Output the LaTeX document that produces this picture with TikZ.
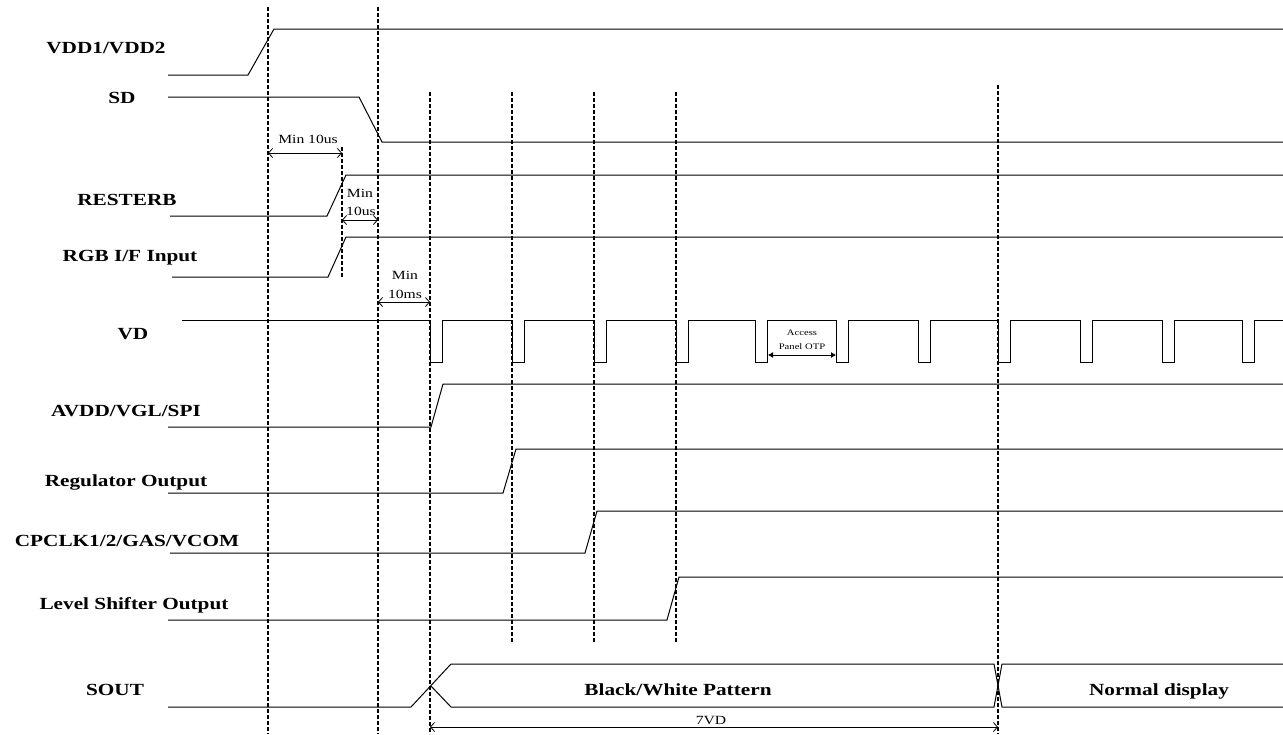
\documentclass[tikz,border=0pt]{standalone}
\usepackage{fontspec}
\setmainfont{Liberation Serif}
\usepackage{graphicx}
\usetikzlibrary{arrows.meta}
\newcommand{\wide}[1]{\scalebox{1.25}[1]{#1}}
\begin{document}
\begin{tikzpicture}[x=1pt,y=-1pt,
  sig/.style={line width=1pt},
  vline/.style={line width=1.3pt, dash pattern=on 4pt off 2pt},
  lbl/.style={anchor=base, inner sep=0pt, font=\fontsize{17}{20}\selectfont\bfseries},
  small/.style={anchor=base, inner sep=0pt, font=\fontsize{12.5}{14}\selectfont},
  tiny/.style={anchor=base, inner sep=0pt, font=\fontsize{8.5}{10}\selectfont},
  dim/.style={line width=0.8pt, {Straight Barb[length=4pt,width=9pt]}-{Straight Barb[length=4pt,width=9pt]}},
  fdim/.style={line width=0.8pt, {Latex[length=5pt,width=6pt]}-{Latex[length=5pt,width=6pt]}}
]
\useasboundingbox (0,0) rectangle (1283,734);

% labels
\node[lbl] (lvdd) at (106,53) {\wide{VDD1/VDD2}};
\node[lbl] (lsd)  at (122,103) {\wide{SD}};
\node[lbl] (lrst) at (127,205) {\wide{RESTERB}};
\node[lbl] (lrgb) at (130,261) {\wide{RGB I/F Input}};
\node[lbl] (lvd)  at (133,339) {\wide{VD}};
\node[lbl] (lavd) at (126,416) {\wide{AVDD/VGL/SPI}};
\node[lbl] (lreg) at (126,486) {\wide{Regulator Output}};
\node[lbl] (lcp)  at (127,546) {\wide{CPCLK1/2/GAS/VCOM}};
\node[lbl] (llev) at (134,609) {\wide{Level Shifter Output}};
\node[lbl] (lso)  at (115,695) {\wide{SOUT}};

% vertical dashed lines
\coordinate (a1) at (268,7);   \coordinate (a2) at (268,734);
\coordinate (b1) at (378,7);   \coordinate (b2) at (378,734);
\coordinate (c1) at (342,147); \coordinate (c2) at (342,278);
\coordinate (d1) at (430,92);  \coordinate (d2) at (430,734);
\coordinate (e1) at (512,92);  \coordinate (e2) at (512,643);
\coordinate (f1) at (594,92);  \coordinate (f2) at (594,643);
\coordinate (g1) at (676,92);  \coordinate (g2) at (676,643);
\coordinate (h1) at (998,85);  \coordinate (h2) at (998,734);
\foreach \p in {a,b,d,e,f,g,h} \draw[vline] (\p1) -- (\p2);
\draw[vline, line width=2pt] (c1) -- (c2);

% signals
\draw[sig] (168,75) -- (248,75) -- (274,29) -- (1283,29);
\draw[sig] (168,97) -- (359,97) -- (382,142) -- (1283,142);
\draw[sig] (170,216) -- (327,216) -- (346,175) -- (1283,175);
\draw[sig] (172,277) -- (328,277) -- (346,237) -- (1283,237);
\draw[sig] (182,320) foreach \f in {430,512,594,676,755,836,918,998,1080,1162,1242}
  { -- (\f,320) -- (\f,362) -- (\f+12.5,362) -- (\f+12.5,320) } -- (1283,320);
\draw[sig] (168,427) -- (431,427) -- (443,384) -- (1283,384);
\draw[sig] (168,493) -- (503,493) -- (516,449) -- (1283,449);
\draw[sig] (170,553) -- (585,553) -- (597,511) -- (1283,511);
\draw[sig] (168,620) -- (667,620) -- (679,577) -- (1283,577);
% SOUT bus
\draw[sig] (168,707) -- (411,707) -- (451,664) -- (994,664) -- (1002,707) -- (1283,707);
\draw[sig] (431,686) -- (451,707) -- (994,707) -- (1002,664) -- (1283,664);
\node[lbl] (bw) at (678,695) {\wide{Black/White Pattern}};
\node[lbl] (nd) at (1159,695) {\wide{Normal display}};

% dimensions
\coordinate (m1l) at (268,153); \coordinate (m1r) at (342,153);
\draw[dim] (m1l) -- (m1r);
\node[small] (t1) at (308,143) {\wide{Min 10us}};
\coordinate (m2l) at (342,220); \coordinate (m2r) at (378,220);
\draw[dim] (m2l) -- (m2r);
\node[small] (t2a) at (360,197) {\wide{Min}};
\node[small] (t2b) at (361,215) {\wide{10us}};
\coordinate (m3l) at (378,302); \coordinate (m3r) at (430,302);
\draw[dim] (m3l) -- (m3r);
\node[small] (t3a) at (405,279) {\wide{Min}};
\node[small] (t3b) at (405,298) {\wide{10ms}};
\coordinate (m4l) at (768,355); \coordinate (m4r) at (836,355);
\draw[fdim] (m4l) -- (m4r);
\node[tiny] (t4a) at (802,335) {\wide{Access}};
\node[tiny] (t4b) at (802,349) {\wide{Panel OTP}};
\coordinate (m5l) at (430,727); \coordinate (m5r) at (998,727);
\draw[dim] (m5l) -- (m5r);
\node[small] (t5) at (711,724) {\wide{7VD}};
\end{tikzpicture}
\end{document}
